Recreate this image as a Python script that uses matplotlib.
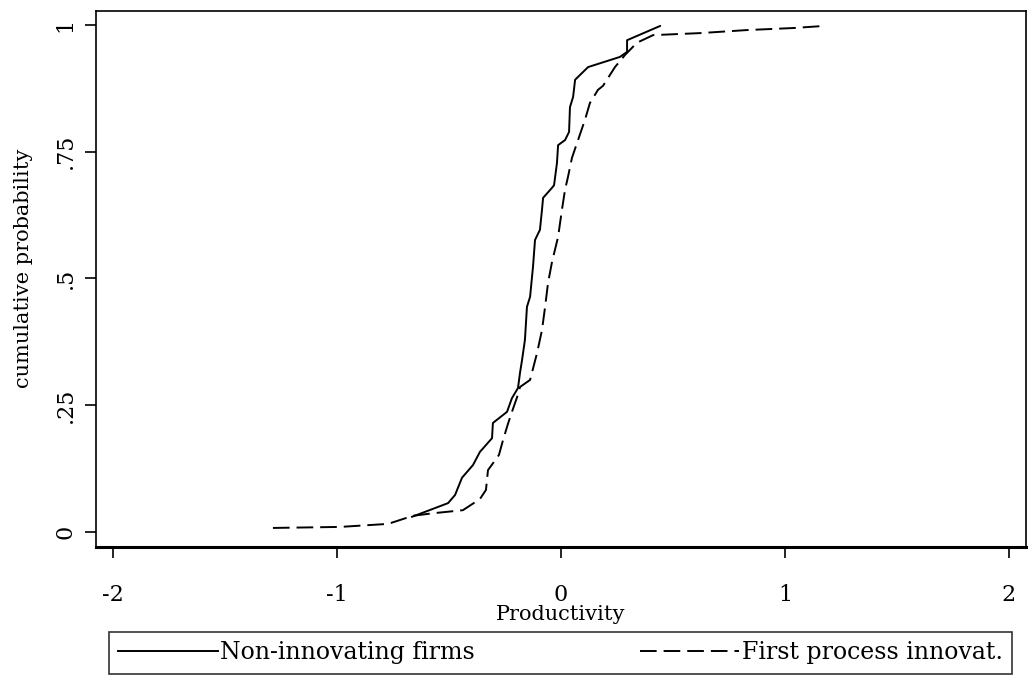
import matplotlib
matplotlib.use("Agg")
import matplotlib.pyplot as plt

plt.rcParams['font.family'] = ['DejaVu Serif']
plt.rcParams['lines.scale_dashes'] = False

# Non-innovating firms (solid)
non_x = [-0.665, -0.504, -0.473, -0.442, -0.393, -0.362, -0.308, -0.304, -0.241, -0.219,
         -0.192, -0.183, -0.174, -0.161, -0.152, -0.138, -0.125, -0.116, -0.094, -0.085,
         -0.080, -0.040, -0.031, -0.018, -0.013, 0.018, 0.036, 0.040, 0.054, 0.063,
         0.121, 0.263, 0.295, 0.295, 0.442]
non_y = [0.030, 0.057, 0.073, 0.107, 0.132, 0.158, 0.185, 0.215, 0.237, 0.264,
         0.284, 0.314, 0.339, 0.379, 0.444, 0.464, 0.523, 0.576, 0.596, 0.635,
         0.659, 0.679, 0.684, 0.728, 0.763, 0.773, 0.789, 0.838, 0.858, 0.892,
         0.917, 0.937, 0.947, 0.970, 0.998]

# First process innovators (dashed)
fpi_x = [-1.286, -0.987, -0.772, -0.661, -0.571, -0.438, -0.362, -0.335, -0.326, -0.277,
         -0.259, -0.237, -0.219, -0.196, -0.183, -0.138, -0.107, -0.085, -0.071, -0.058,
         -0.040, -0.013, 0.004, 0.018, 0.031, 0.049, 0.076, 0.107, 0.129, 0.165,
         0.1875, 0.241, 0.286, 0.339, 0.411, 0.621, 0.830, 1.036, 1.170]
fpi_y = [0.008, 0.010, 0.016, 0.032, 0.037, 0.043, 0.065, 0.083, 0.122, 0.152,
         0.181, 0.213, 0.237, 0.266, 0.286, 0.300, 0.353, 0.398, 0.444, 0.491,
         0.533, 0.582, 0.635, 0.675, 0.700, 0.738, 0.773, 0.813, 0.846, 0.872,
         0.880, 0.917, 0.941, 0.965, 0.980, 0.984, 0.990, 0.994, 0.998]

x_ticks = [-2, -1, 0, 1, 2]
x_tick_labels = ["-2", "-1", "0", "1", "2"]
y_ticks = [0, 0.25, 0.5, 0.75, 1]
y_tick_labels = ["0", ".25", ".5", ".75", "1"]
series_labels = ["Non-innovating firms", "First process innovat."]

W, H = 1028, 682
fig = plt.figure(figsize=(W / 100, H / 100), dpi=100)
ax = fig.add_axes([96 / W, 1 - 546.7 / H, (1026 - 96) / W, (546.7 - 11) / H])

l1, = ax.plot(non_x, non_y, color='black', lw=1.4, solid_joinstyle='round')
l2, = ax.plot(fpi_x, fpi_y, color='black', lw=1.4, dashes=(12, 5))

ax.set_xlim(-2.076, 2.076)
ax.set_ylim(-0.029, 1.0276)
ax.set_xticks(x_ticks)
ax.set_xticklabels(x_tick_labels)
ax.set_yticks(y_ticks)
ax.set_yticklabels(y_tick_labels, rotation=90, va='center')
ax.tick_params(axis='both', direction='out', length=8, width=1.2, labelsize=16, colors='black')
ax.tick_params(axis='x', pad=19)
ax.tick_params(axis='y', pad=6)
for s in ax.spines.values():
    s.set_linewidth(1.2)
ax.spines['bottom'].set_linewidth(2.2)

ax.set_xlabel("Productivity", fontsize=15)
ax.xaxis.set_label_coords(0.5, -0.108)
ax.set_ylabel("cumulative probability", fontsize=15)
ax.yaxis.set_label_coords(-0.0677, 0.52)

leg = fig.legend(handles=[l1, l2], labels=series_labels, ncol=2, mode='expand',
                 loc='center', bbox_to_anchor=(109 / W, 1 - 678 / H, 903 / W, 50 / H),
                 fontsize=17, handlelength=4.2, handletextpad=0.12, borderpad=0.4,
                 frameon=True, fancybox=False, edgecolor='black', borderaxespad=0)
leg.get_frame().set_linewidth(1.2)

fig.savefig("out.png", dpi=100)
